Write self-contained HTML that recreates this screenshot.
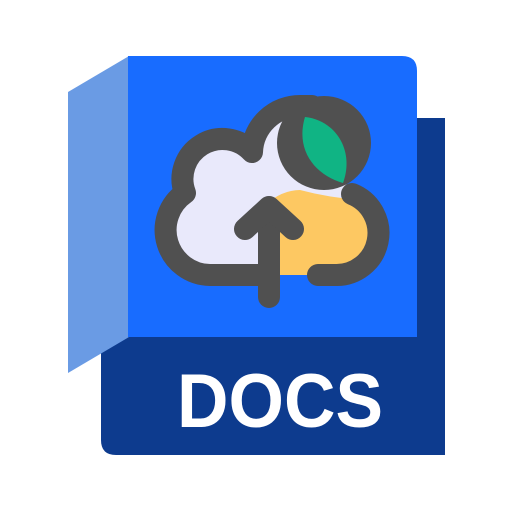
<!DOCTYPE html>
<html><head><style>html,body{margin:0;padding:0;background:#fff}svg{display:block}</style></head>
<body>
<svg width="512" height="512" viewBox="0 0 512 512" xmlns="http://www.w3.org/2000/svg">
<path d="M101 118 H445 V455 H116 Q101 455 101 440 Z" fill="#0d3b8e"/>
<polygon points="68,92 129,56 129,337 68,373" fill="#6a9be4"/>
<path d="M128 56 H402 Q417 56 417 71 V337 H128 Z" fill="#186cff"/>
<text x="280" y="427" text-anchor="middle" font-family="Liberation Sans, sans-serif" font-weight="bold" font-size="76" fill="#fff" textLength="206" lengthAdjust="spacingAndGlyphs">DOCS</text>
<path d="M262 275 H210 A45 45 0 0 1 185 193 A40 40 0 0 1 252 152 A48 48 0 0 1 300 106 L352 194 A42 42 0 0 1 335 275 Z" fill="#e9e9fb"/>
<path d="M265 275 V205 Q282 190 300 190 Q330 198 362 200 L375 240 L350 275 Z" fill="#fdc862"/>
<g fill="none" stroke="#505050" stroke-width="22" stroke-linecap="round" stroke-linejoin="round">
<path d="M262 275 H210 A45 45 0 0 1 185 193 A40 40 0 0 1 252 152 A48 48 0 0 1 300 106 L312 106"/>
<path d="M352 194 A42 42 0 0 1 335 275 H318"/>
<path d="M269 208 V297"/>
<polyline points="245,229 269,207 293,229"/>
</g>
<circle cx="324" cy="143" r="47" fill="#505050"/>
<path d="M305 117 C335 120 355 150 343 183 C315 175 295 150 305 117 Z" fill="#10b484"/>
</svg>
</body></html>
